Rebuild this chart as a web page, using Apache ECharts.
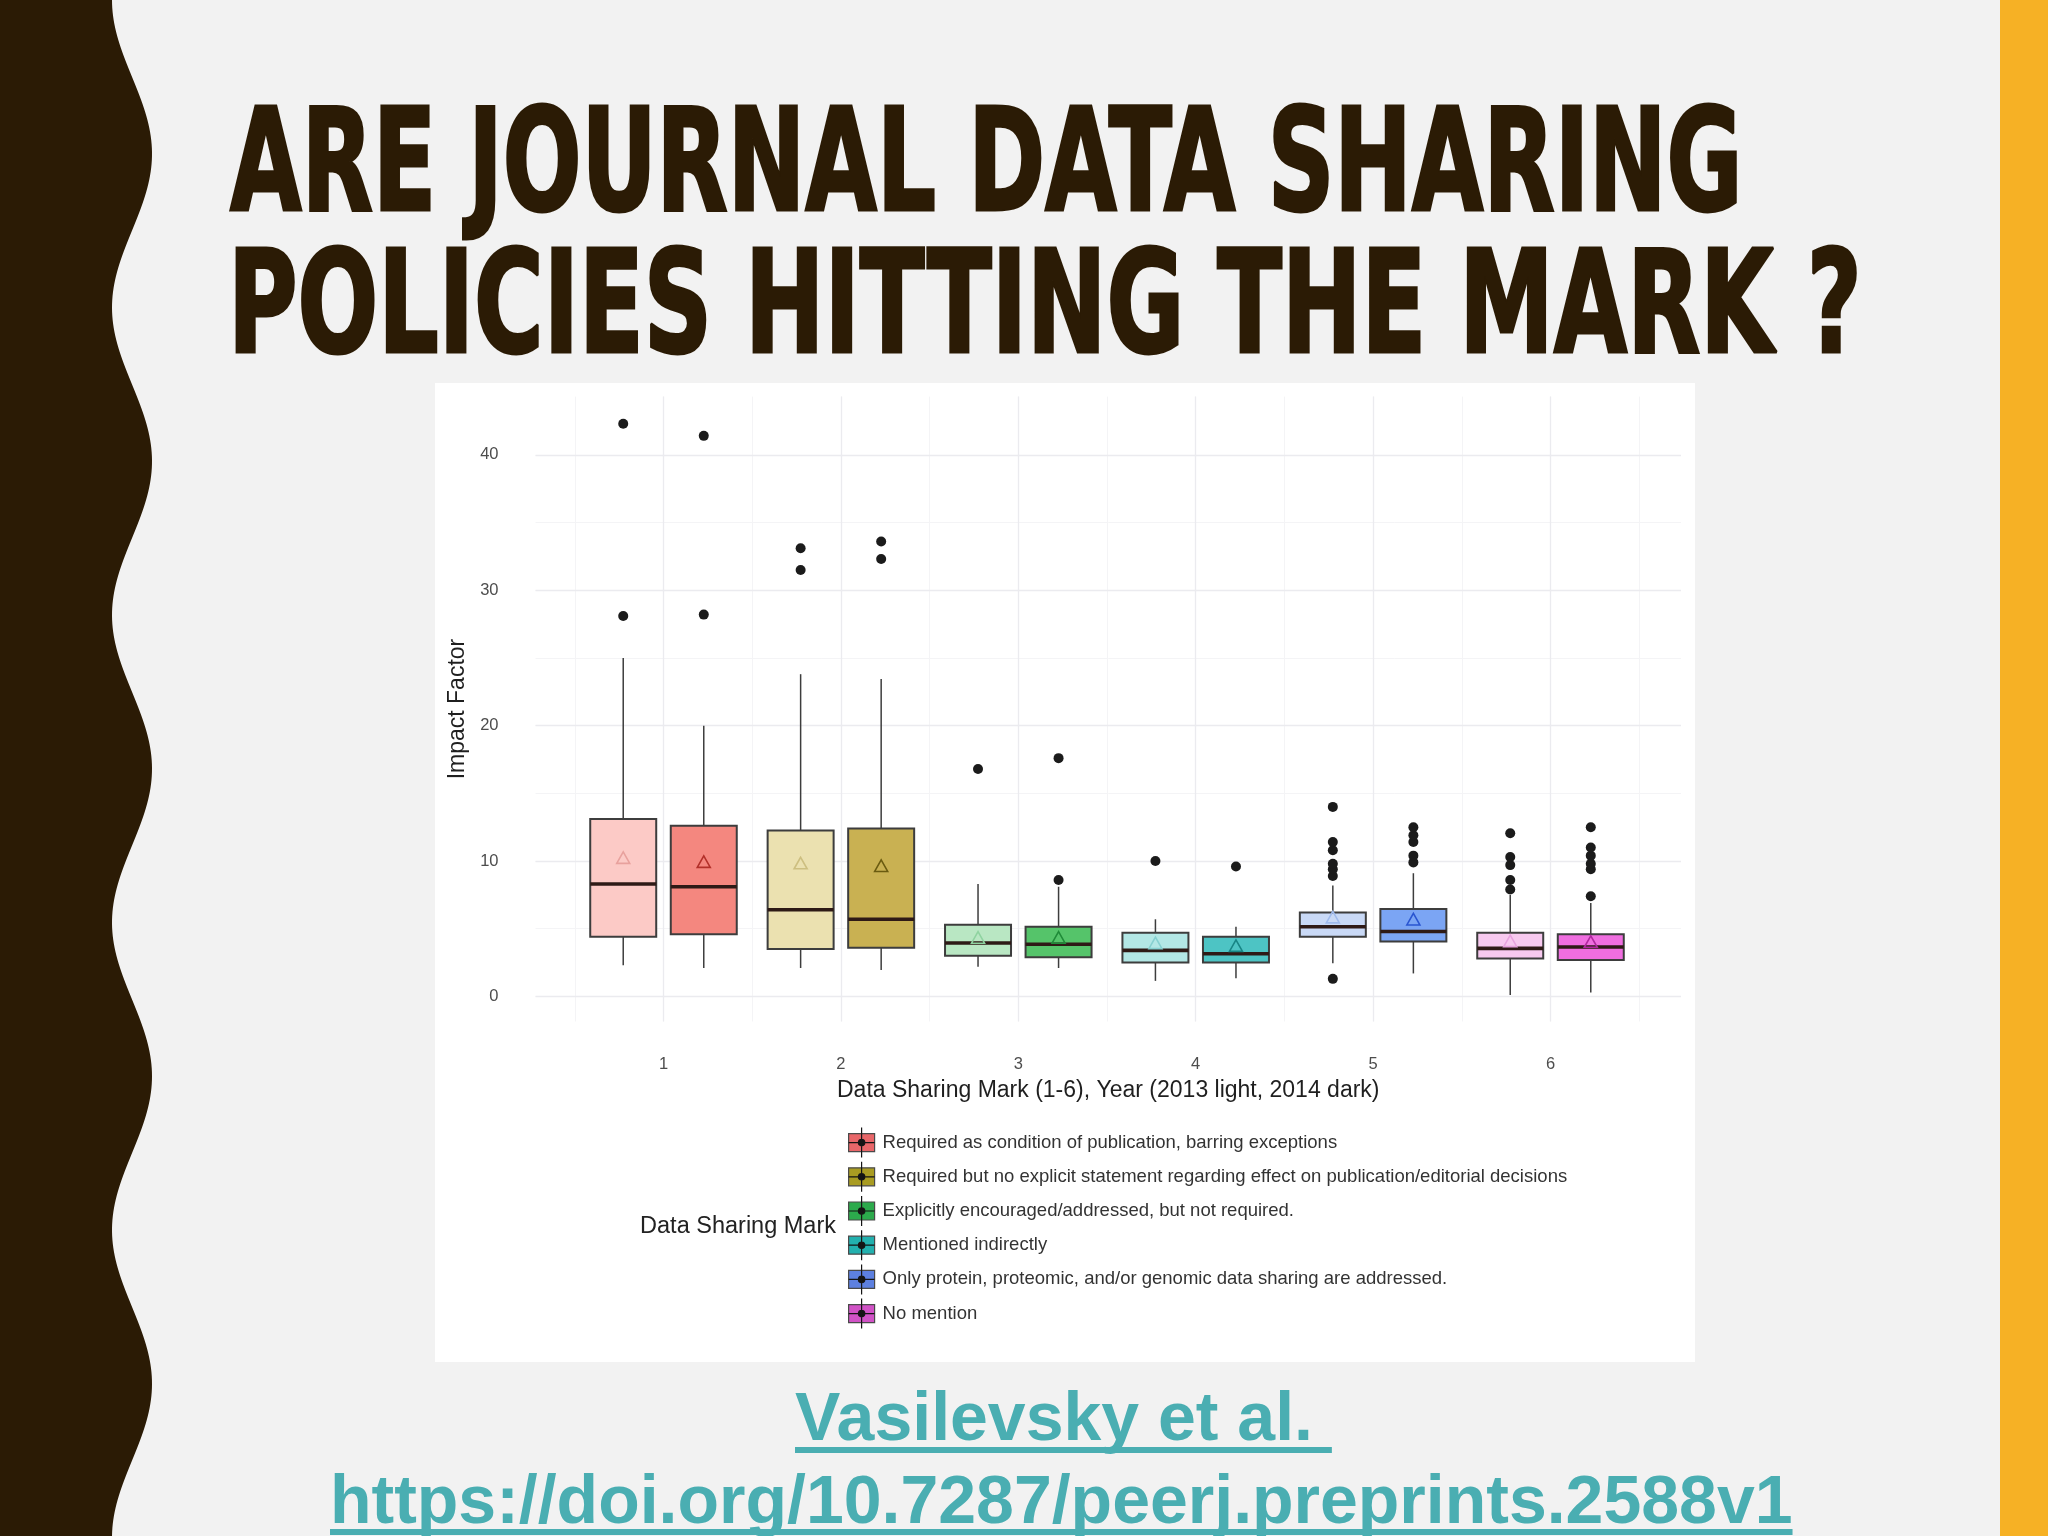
<!DOCTYPE html>
<html>
<head>
<meta charset="utf-8">
<title>Are journal data sharing policies hitting the mark?</title>
<script src="https://cdn.jsdelivr.net/npm/echarts@6/dist/echarts.min.js"></script>
<style>
  html, body { margin: 0; padding: 0; background: #f2f2f2; }
  #slide { width: 2048px; height: 1536px; }
</style>
</head>
<body>
<div id="slide"></div>
<script>
// ---- data (Impact Factor per data sharing mark) ----
const marks = [1, 2, 3, 4, 5, 6];
const markNames = [
  'Required as condition of publication, barring exceptions',
  'Required but no explicit statement regarding effect on publication/editorial decisions',
  'Explicitly encouraged/addressed, but not required.',
  'Mentioned indirectly',
  'Only protein, proteomic, and/or genomic data sharing are addressed.',
  'No mention'
];
// [lower whisker, Q1, median, Q3, upper whisker]
const box2013 = [
  [2.3, 4.4, 8.3, 13.1, 25.0],
  [2.1, 3.5, 6.4, 12.25, 23.8],
  [2.2, 3.0, 3.95, 5.3, 8.3],
  [1.15, 2.5, 3.4, 4.7, 5.7],
  [2.45, 4.4, 5.15, 6.2, 8.2],
  [0.1, 2.8, 3.55, 4.7, 7.5]
];
const box2014 = [
  [2.1, 4.6, 8.1, 12.6, 20.0],
  [1.95, 3.6, 5.7, 12.4, 23.45],
  [2.1, 2.9, 3.86, 5.15, 8.1],
  [1.35, 2.5, 3.15, 4.4, 5.15],
  [1.7, 4.05, 4.8, 6.45, 9.1],
  [0.3, 2.7, 3.65, 4.6, 6.9]
];
const mean2013 = [10.2, 9.8, 4.3, 3.9, 5.8, 4.05];
const mean2014 = [9.9, 9.6, 4.3, 3.7, 5.65, 4.0];
const outliers2013 = [
  [28.1, 42.3],
  [31.5, 33.1],
  [16.8],
  [10.0],
  [1.3, 8.9, 9.4, 9.8, 10.8, 11.4, 14.0],
  [7.9, 8.6, 9.7, 10.3, 12.05]
];
const outliers2014 = [
  [28.2, 41.4],
  [32.3, 33.6],
  [8.6, 17.6],
  [9.6],
  [9.9, 10.4, 11.4, 11.9, 12.5],
  [7.4, 9.4, 9.8, 10.4, 11.0, 12.5]
];

// ---- styling ----
const fill2013 = ['#fccac6', '#ebe1b0', '#b9e7c3', '#b3e7e5', '#c9d9f6', '#f7c9ef'];
const fill2014 = ['#f4877f', '#c9b152', '#55c46a', '#4dc4c4', '#7ba5f4', '#f06ee0'];
const meanColor2013 = ['#e8a19d', '#cdbf80', '#8fd3a0', '#86d0d0', '#a0bbed', '#e8a3df'];
const meanColor2014 = ['#b3302a', '#6a5b10', '#1f8a38', '#178585', '#2a55d0', '#b0289f'];
const legendColors = ['#e86669', '#a99c22', '#2caa4c', '#22b0ae', '#5d80e0', '#d152c6'];

const DARK = '#2b1b05';
const TEAL = '#4aaeb2';
const EDGE = '#3d3d3d';
const MEDIAN = '#2e1a16';
const FONT = '"Liberation Sans", Arial, sans-serif';

const X_MIN = 0.2785, X_MAX = 6.7356;
const Y_MIN = -1.85, Y_MAX = 44.3;
const DODGE = 0.227;
const BOX_W = 0.372;

// ---- text measuring for the slide text ----
const measureCtx = document.createElement('canvas').getContext('2d');
function metrics(font, text) {
  measureCtx.font = font;
  measureCtx.textAlign = 'left';
  measureCtx.textBaseline = 'middle';
  const m = measureCtx.measureText(text);
  const h = measureCtx.measureText('H');
  return {
    width: m.width,
    left: m.actualBoundingBoxLeft,
    right: m.actualBoundingBoxRight,
    capUp: h.actualBoundingBoxAscent,
    capDown: h.actualBoundingBoxDescent
  };
}

const TITLE_FONT = 'bold 120px "DejaVu Sans Condensed", "DejaVu Sans"';
function titleLine(text, left, right, capTop, baseline) {
  const m = metrics(TITLE_FONT, text);
  const sx = (right - left) / (m.left + m.right);
  const sy = (baseline - capTop) / (m.capUp + m.capDown);
  return {
    type: 'text',
    x: left + m.left * sx,
    y: baseline - m.capDown * sy,
    scaleX: sx,
    scaleY: sy,
    style: {
      text: text, font: TITLE_FONT, fill: DARK,
      stroke: DARK, lineWidth: 2.5,
      align: 'left', verticalAlign: 'middle'
    }
  };
}

const LINK_FONT = 'bold 68px "Liberation Sans", Arial';
function linkLine(text, left, baseline, underlineTop) {
  const m = metrics(LINK_FONT, text);
  return [
    {
      type: 'text', x: left, y: baseline - m.capDown,
      style: { text: text, font: LINK_FONT, fill: TEAL, align: 'left', verticalAlign: 'middle' }
    },
    {
      type: 'rect',
      shape: { x: left, y: underlineTop, width: m.width, height: 6 },
      style: { fill: TEAL }
    }
  ];
}

// wavy dark band on the left edge of the slide
function wavePoints() {
  const pts = [[0, 0]];
  for (let y = 0; y <= 1536; y += 4) {
    pts.push([132 - 20 * Math.cos(2 * Math.PI * y / 307.5), y]);
  }
  pts.push([0, 1536]);
  return pts;
}

function boxRenderer(shift, fills, meanColors) {
  return function (params, api) {
    const x = api.value(0) + shift;
    const xc = api.coord([x, 0])[0];
    const half = api.size([BOX_W, 0])[0] / 2;
    const py = (dim) => api.coord([x, api.value(dim)])[1];
    const yLo = py(1), yQ1 = py(2), yMed = py(3), yQ3 = py(4), yHi = py(5), yMean = py(6);
    const i = params.dataIndex;
    return {
      type: 'group',
      children: [
        { type: 'line', shape: { x1: xc, y1: yHi, x2: xc, y2: yQ3 }, style: { stroke: EDGE, lineWidth: 1.5 } },
        { type: 'line', shape: { x1: xc, y1: yQ1, x2: xc, y2: yLo }, style: { stroke: EDGE, lineWidth: 1.5 } },
        {
          type: 'rect',
          shape: { x: xc - half, y: yQ3, width: half * 2, height: yQ1 - yQ3 },
          style: { fill: fills[i], stroke: EDGE, lineWidth: 2 }
        },
        { type: 'line', shape: { x1: xc - half, y1: yMed, x2: xc + half, y2: yMed }, style: { stroke: MEDIAN, lineWidth: 3.6 } },
        {
          type: 'polygon',
          shape: { points: [[xc, yMean - 6.5], [xc - 6.5, yMean + 5], [xc + 6.5, yMean + 5]] },
          style: { fill: 'none', stroke: meanColors[i], lineWidth: 1.6 }
        }
      ]
    };
  };
}

const boxData2013 = box2013.map((b, i) => [marks[i], ...b, mean2013[i]]);
const boxData2014 = box2014.map((b, i) => [marks[i], ...b, mean2014[i]]);
const outlierData = [
  ...outliers2013.flatMap((vals, i) => vals.map((v) => [marks[i] - DODGE, v])),
  ...outliers2014.flatMap((vals, i) => vals.map((v) => [marks[i] + DODGE, v]))
];

const isMultiple = (v, step) => Math.abs(v - Math.round(v / step) * step) < 1e-6;

const chart = echarts.init(document.getElementById('slide'));
chart.setOption({
  animation: false,
  backgroundColor: '#f2f2f2',
  textStyle: { fontFamily: FONT },
  grid: { left: 535.5, right: 367, top: 396.6, bottom: 514.5, containLabel: false },
  xAxis: [
    {
      // half-step (minor) vertical grid lines
      type: 'value', position: 'top', min: X_MIN, max: X_MAX, splitNumber: 13,
      axisLine: { show: false }, axisTick: { show: false }, axisLabel: { show: false },
      splitLine: { show: true, showMinLine: false, showMaxLine: false, lineStyle: { color: '#f4f4f6', width: 1 } }
    },
    {
      type: 'value', position: 'bottom', min: X_MIN, max: X_MAX, splitNumber: 6, z: 1,
      name: 'Data Sharing Mark (1-6), Year (2013 light, 2014 dark)',
      nameLocation: 'middle', nameGap: 58,
      nameTextStyle: { fontSize: 23, color: '#1f1f1f', fontFamily: FONT },
      axisLine: { show: false }, axisTick: { show: false },
      axisLabel: {
        margin: 34, fontSize: 16.5, color: '#4d4d4d', fontFamily: FONT,
        formatter: (v) => (isMultiple(v, 1) ? String(Math.round(v)) : '')
      },
      splitLine: { show: true, showMinLine: false, showMaxLine: false, lineStyle: { color: '#ebebef', width: 1.3 } }
    }
  ],
  yAxis: [
    {
      type: 'value', position: 'left', min: Y_MIN, max: Y_MAX, splitNumber: 5, z: 1,
      name: 'Impact Factor', nameLocation: 'middle', nameGap: 64, nameRotate: 90,
      nameTextStyle: { fontSize: 23, color: '#1f1f1f', fontFamily: FONT },
      axisLine: { show: false }, axisTick: { show: false },
      axisLabel: {
        margin: 37, fontSize: 16.5, color: '#4d4d4d', fontFamily: FONT,
        formatter: (v) => (isMultiple(v, 10) ? String(Math.round(v)) : '')
      },
      splitLine: { show: true, showMinLine: false, showMaxLine: false, lineStyle: { color: '#ebebef', width: 1.3 } }
    },
    {
      // half-step (minor) horizontal grid lines
      type: 'value', position: 'right', min: Y_MIN, max: Y_MAX, splitNumber: 9,
      axisLine: { show: false }, axisTick: { show: false }, axisLabel: { show: false },
      splitLine: { show: true, showMinLine: false, showMaxLine: false, lineStyle: { color: '#f4f4f6', width: 1 } }
    }
  ],
  legend: [
    {
      orient: 'vertical', left: 848, top: 1133, padding: 0,
      itemWidth: 26, itemHeight: 18, itemGap: 15, selectedMode: false,
      textStyle: { fontSize: 18.5, color: '#333', fontFamily: FONT, padding: [0, 0, 0, 3] },
      data: markNames.map((name, i) => ({
        name: name, icon: 'rect',
        itemStyle: { color: legendColors[i], borderColor: '#4a4a4a', borderWidth: 1.2 }
      }))
    },
    {
      // whisker, median and dot drawn over each legend key
      orient: 'vertical', left: 848, top: 1127, padding: 0,
      itemWidth: 26, itemHeight: 30, itemGap: 3, selectedMode: false,
      textStyle: { fontSize: 18.5, color: 'rgba(0,0,0,0)', fontFamily: FONT, padding: [0, 0, 0, 3] },
      data: markNames.map((name) => ({
        name: name,
        icon: 'path://M13,0L13,30M0,15L26,15M16.2,15A3.2,3.2,0,1,1,9.8,15A3.2,3.2,0,1,1,16.2,15Z',
        itemStyle: { color: '#151515', borderColor: '#151515', borderWidth: 1.2 }
      }))
    }
  ],
  series: [
    {
      name: '2013', type: 'custom', xAxisIndex: 1, yAxisIndex: 0,
      renderItem: boxRenderer(-DODGE, fill2013, meanColor2013),
      encode: { x: 0, y: [1, 2, 3, 4, 5] },
      data: boxData2013, z: 3
    },
    {
      name: '2014', type: 'custom', xAxisIndex: 1, yAxisIndex: 0,
      renderItem: boxRenderer(DODGE, fill2014, meanColor2014),
      encode: { x: 0, y: [1, 2, 3, 4, 5] },
      data: boxData2014, z: 3
    },
    {
      name: 'outliers', type: 'scatter', xAxisIndex: 1, yAxisIndex: 0,
      symbolSize: 10, itemStyle: { color: '#1b1b1b', opacity: 1 },
      data: outlierData, z: 4
    },
    ...markNames.map((name, i) => ({
      name: name, type: 'custom', xAxisIndex: 1, yAxisIndex: 0,
      itemStyle: { color: legendColors[i] },
      renderItem: () => null, data: []
    }))
  ],
  graphic: [
    { type: 'polygon', z: -1, shape: { points: wavePoints() }, style: { fill: DARK } },
    { type: 'rect', z: -1, shape: { x: 2000, y: 0, width: 48, height: 1536 }, style: { fill: '#f6b125' } },
    { type: 'rect', z: -1, shape: { x: 435, y: 383, width: 1260, height: 979 }, style: { fill: '#ffffff' } },
    titleLine('ARE JOURNAL DATA SHARING', 230, 1736, 106, 210),
    titleLine('POLICIES HITTING THE MARK ?', 236, 1856, 247, 352),
    {
      type: 'text', x: 836, y: 1226.5,
      style: { text: 'Data Sharing Mark', font: '23.5px ' + FONT, fill: '#222', align: 'right', verticalAlign: 'middle' }
    },
    ...linkLine('Vasilevsky et al. ', 795, 1440, 1447),
    ...linkLine('https://doi.org/10.7287/peerj.preprints.2588v1', 330, 1523, 1529)
  ]
});
</script>
</body>
</html>
